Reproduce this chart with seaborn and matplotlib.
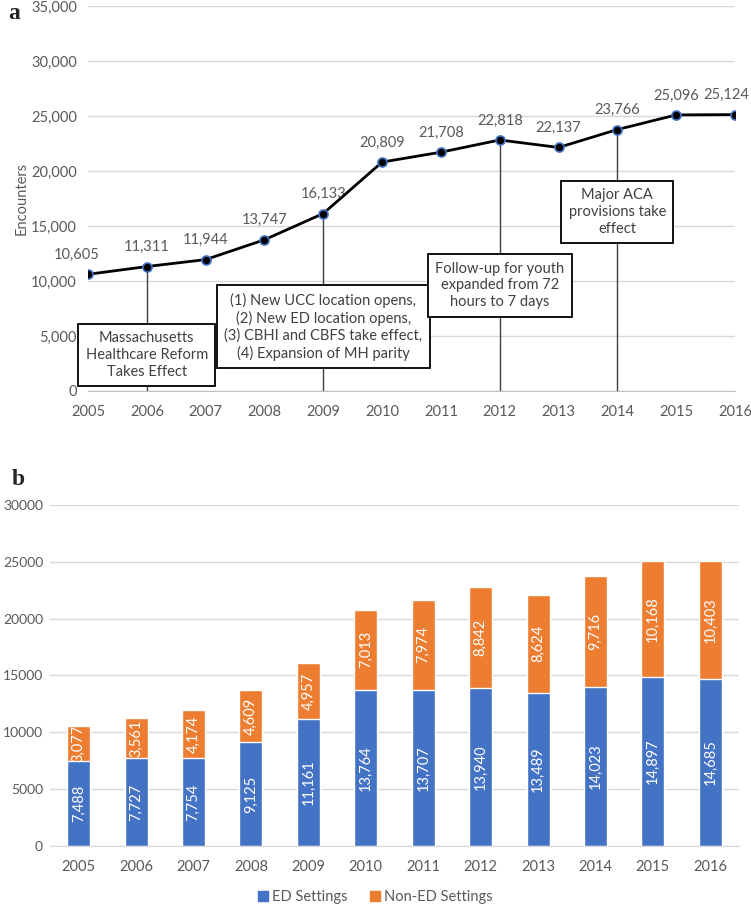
import matplotlib
matplotlib.use('Agg')
import matplotlib.pyplot as plt
from matplotlib.ticker import FuncFormatter
from matplotlib.patches import Patch
import seaborn as sns
import pandas as pd
import numpy as np

# Data
years = [2005, 2006, 2007, 2008, 2009, 2010, 2011, 2012, 2013, 2014, 2015, 2016]
encounters = [10605, 11311, 11944, 13747, 16133, 20809, 21708, 22818, 22137, 23766, 25096, 25124]
ed_settings = [7488, 7727, 7754, 9125, 11161, 13764, 13707, 13940, 13489, 14023, 14897, 14685]
non_ed_settings = [3077, 3561, 4174, 4609, 4957, 7013, 7974, 8842, 8624, 9716, 10168, 10403]

event_years = [2006, 2009, 2012, 2014]
event_texts = [
    'Massachusetts\nHealthcare Reform\nTakes Effect',
    '(1) New UCC location opens,\n(2) New ED location opens,\n(3) CBHI and CBFS take effect,\n(4) Expansion of MH parity',
    'Follow-up for youth\nexpanded from 72\nhours to 7 days',
    'Major ACA\nprovisions take\neffect',
]
event_box_y = [3270, 5818, 9590, 16273]

BLUE = '#4472C4'
ORANGE = '#ED7D31'
GRID = '#d9d9d9'
TXT = '#595959'

sns.set_style('white')
plt.rcParams['font.family'] = ['Lato', 'DejaVu Sans']

fig = plt.figure(figsize=(7.51, 9.05), dpi=100)
ax1 = fig.add_axes([0.1172, 0.568, 0.8615, 0.4254])
ax2 = fig.add_axes([0.0666, 0.0652, 0.9174, 0.3768])

# ---- Panel a: line chart
df_a = pd.DataFrame({'year': years, 'encounters': encounters})
sns.lineplot(data=df_a, x='year', y='encounters', color='black', lw=2,
             marker='o', markersize=6.5, markerfacecolor='black',
             markeredgecolor=BLUE, markeredgewidth=1.2, ax=ax1, zorder=4)

label_dx = {2005: -8, 2016: -6}
for yr, val in zip(years, encounters):
    ax1.annotate(f'{val:,}', (yr, val), xytext=(label_dx.get(yr, 0), 9),
                 textcoords='offset points', ha='center', va='bottom',
                 fontsize=10.5, color=TXT)

enc_by_year = dict(zip(years, encounters))
for yr, txt, yb in zip(event_years, event_texts, event_box_y):
    ax1.plot([yr, yr], [0, enc_by_year[yr]], color='#404040', lw=1, zorder=2)
    ax1.text(yr, yb, txt, ha='center', va='center', fontsize=10.5, color='#404040',
             linespacing=1.25, zorder=3,
             bbox=dict(boxstyle='square,pad=0.5', fc='white', ec='black', lw=1.3))

ax1.set_xlim(2005, 2016)
ax1.set_ylim(0, 35000)
ax1.set_yticks(np.arange(0, 35001, 5000))
ax1.yaxis.set_major_formatter(FuncFormatter(lambda v, p: f'{int(v):,}'))
ax1.set_xticks(years)
ax1.grid(axis='y', color=GRID, lw=1)
ax1.set_axisbelow(True)
for s in ['top', 'right', 'left']:
    ax1.spines[s].set_visible(False)
ax1.spines['bottom'].set_color('#bfbfbf')
ax1.tick_params(axis='x', colors=TXT, labelsize=10.5, length=4, color='#bfbfbf', pad=6)
ax1.tick_params(axis='y', colors=TXT, labelsize=10.5, length=0, pad=8)
ax1.set_xlabel('')
ax1.set_ylabel('Encounters', fontsize=10.5, color=TXT, labelpad=2)
fig.text(0.011, 0.985, 'a', fontsize=17, fontweight='bold', family='Liberation Serif', va='center')

# ---- Panel b: stacked bars
df_b = pd.DataFrame({'year': [str(y) for y in years], 'ed': ed_settings, 'non_ed': non_ed_settings})
df_b['total'] = df_b['ed'] + df_b['non_ed']
sns.barplot(data=df_b, x='year', y='total', color=ORANGE, width=0.4, saturation=1, ax=ax2)
sns.barplot(data=df_b, x='year', y='ed', color=BLUE, width=0.4, saturation=1, ax=ax2)

for i, (e, n) in enumerate(zip(ed_settings, non_ed_settings)):
    ax2.text(i, e / 2, f'{e:,}', rotation=90, ha='center', va='center', color='white', fontsize=10.5)
    ax2.text(i, e + n / 2, f'{n:,}', rotation=90, ha='center', va='center', color='white', fontsize=10.5)

ax2.set_xlim(-0.5, 11.5)
ax2.set_ylim(0, 30000)
ax2.set_yticks(np.arange(0, 30001, 5000))
ax2.grid(axis='y', color=GRID, lw=1)
ax2.set_axisbelow(True)
for s in ['top', 'right', 'left']:
    ax2.spines[s].set_visible(False)
ax2.spines['bottom'].set_color(GRID)
ax2.tick_params(axis='x', colors=TXT, labelsize=10.5, length=0, pad=10)
ax2.tick_params(axis='y', colors=TXT, labelsize=10, length=0, pad=5)
ax2.set_xlabel('')
ax2.set_ylabel('')
fig.text(0.016, 0.47, 'b', fontsize=17, fontweight='bold', family='Liberation Serif', va='center')

handles = [Patch(color=BLUE, label='ED Settings'), Patch(color=ORANGE, label='Non-ED Settings')]
fig.legend(handles=handles, loc='center', bbox_to_anchor=(0.5, 0.009), ncol=2, frameon=False,
           fontsize=10.5, labelcolor=TXT, handlelength=0.7, handleheight=0.7, handletextpad=0.3,
           columnspacing=1.5)

fig.savefig('out.png', dpi=100)
